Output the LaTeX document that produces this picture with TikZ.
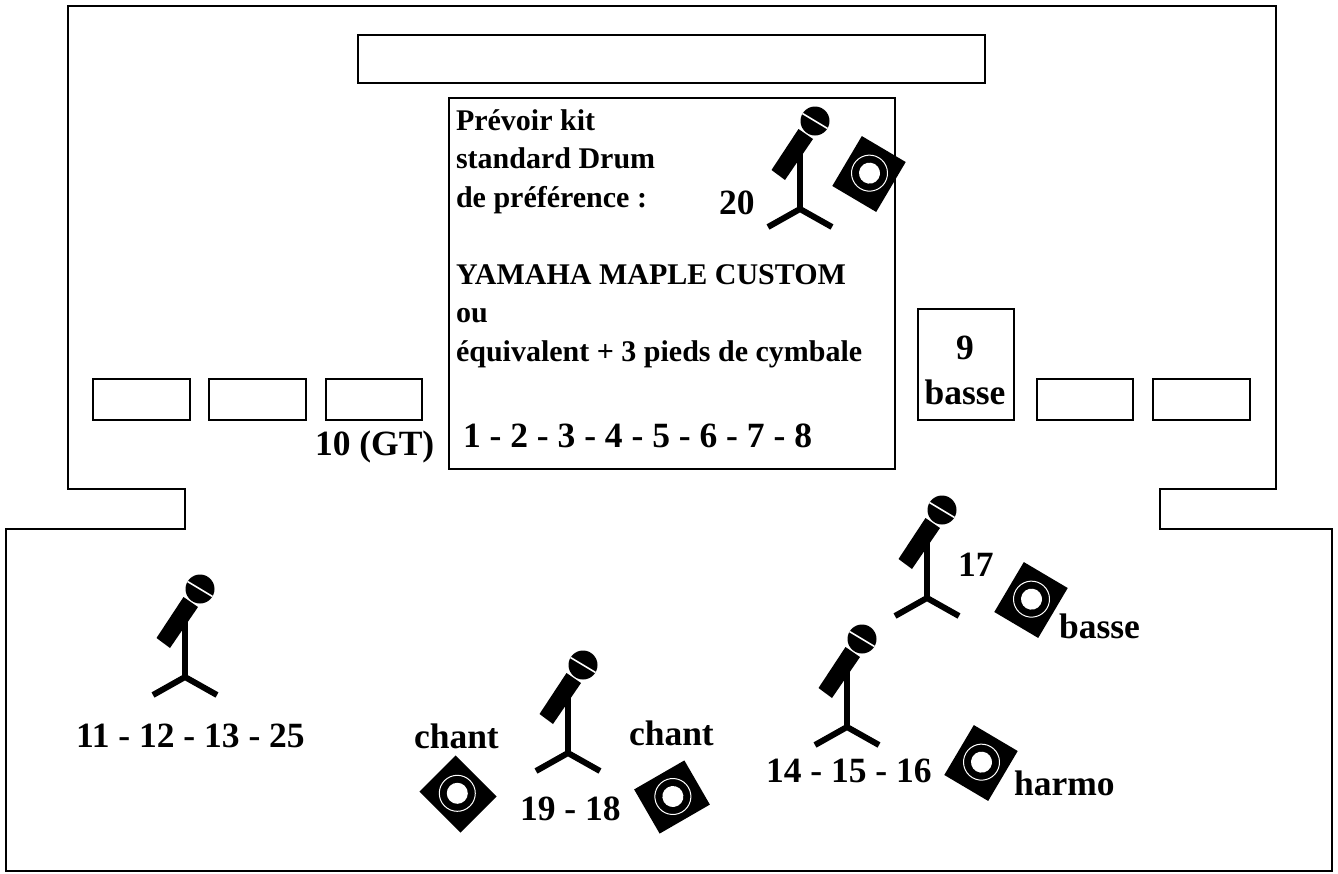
\documentclass[tikz,border=0pt]{standalone}
\usepackage{fontspec}
\setmainfont{Liberation Serif}
\tikzset{
  x=1pt,y=-1pt,
  outline/.style={draw=black,line width=2.7pt,fill=none},
  lbl/.style={anchor=base west,inner sep=0pt,outer sep=0pt,font=\fontsize{35.5}{35.5}\selectfont\bfseries},
  lblc/.style={anchor=base,inner sep=0pt,outer sep=0pt,font=\fontsize{35.5}{35.5}\selectfont\bfseries},
  note/.style={anchor=base west,inner sep=0pt,outer sep=0pt,font=\fontsize{30}{30}\selectfont\bfseries},
  micstand/.pic={
    \draw[line width=6pt,black] (0,-60) -- (0,0);
    \draw[line width=6pt,black,line join=miter] (-32,18) -- (0,0) -- (32,18);
    \fill[black] (-1.5,-80) -- (13,-70) -- (-15,-29) -- (-28.5,-39) -- cycle;
    \fill[black] (15,-88) circle[radius=14.5];
    \draw[white,line width=1.6pt] (2.5,-95.5) -- (27.5,-80.5);
  },
  speaker/.pic={
    \fill[black] (-25.5,-29) rectangle (25.5,29);
    \draw[white,line width=1pt] (0,-1) circle[radius=18];
    \fill[white] (0,-1) circle[radius=10.5];
  }
}
\begin{document}
\begin{tikzpicture}
\useasboundingbox (0,0) rectangle (1338,873);
\fill[white] (0,0) rectangle (1338,873);
\draw[outline,line join=miter] (68,6) -- (1276,6) -- (1276,489) -- (1160,489) -- (1160,529) -- (1332,529) -- (1332,871) -- (6,871) -- (6,529) -- (185,529) -- (185,489) -- (68,489) -- cycle;
\draw[outline] (358,35) rectangle (985,83);
\draw[outline] (449,98) rectangle (895,469);
\draw[outline] (93,379) rectangle (190,420);
\draw[outline] (209,379) rectangle (306,420);
\draw[outline] (326,379) rectangle (422,420);
\draw[outline] (918,309) rectangle (1014,420);
\draw[outline] (1037,379) rectangle (1133,420);
\draw[outline] (1153,379) rectangle (1250,420);
\pic at (800,209) {micstand};
\pic at (927,598) {micstand};
\pic at (847,727) {micstand};
\pic at (568,753) {micstand};
\pic at (185,677) {micstand};
\pic[rotate=-30.6] at (869,174) {speaker};
\pic[rotate=-30.6] at (1031,600) {speaker};
\pic[rotate=-30.6] at (981,763) {speaker};
\pic[rotate=45] at (458,794) {speaker};
\pic[rotate=-60] at (672,797) {speaker};
\node[note] (n1) at (456,130) {Prévoir kit};
\node[note] (n2) at (456,168) {standard Drum};
\node[note] (n3) at (456,207) {de préférence :};
\node[note] (n4) at (456,284) {YAMAHA MAPLE CUSTOM};
\node[note] (n5) at (456,322) {ou};
\node[note] (n6) at (456,361) {équivalent + 3 pieds de cymbale};
\node[lbl] (d) at (463,447) {1 - 2 - 3 - 4 - 5 - 6 - 7 - 8};
\node[lbl] (gt) at (315,455) {10 (GT)};
\node[lbl] (m20) at (719,214) {20};
\node[lblc] (b9) at (965,359) {9};
\node[lblc] (b9b) at (965,404) {basse};
\node[lbl] (m17) at (958,576) {17};
\node[lbl] (sb) at (1059,638) {basse};
\node[lbl] (m11) at (76,747) {11 - 12 - 13 - 25};
\node[lbl] (c1) at (414,748) {chant};
\node[lbl] (c2) at (629,745) {chant};
\node[lbl] (m19) at (520,820) {19 - 18};
\node[lbl] (m14) at (766,782) {14 - 15 - 16};
\node[lbl] (sh) at (1014,795) {harmo};
\end{tikzpicture}
\end{document}
